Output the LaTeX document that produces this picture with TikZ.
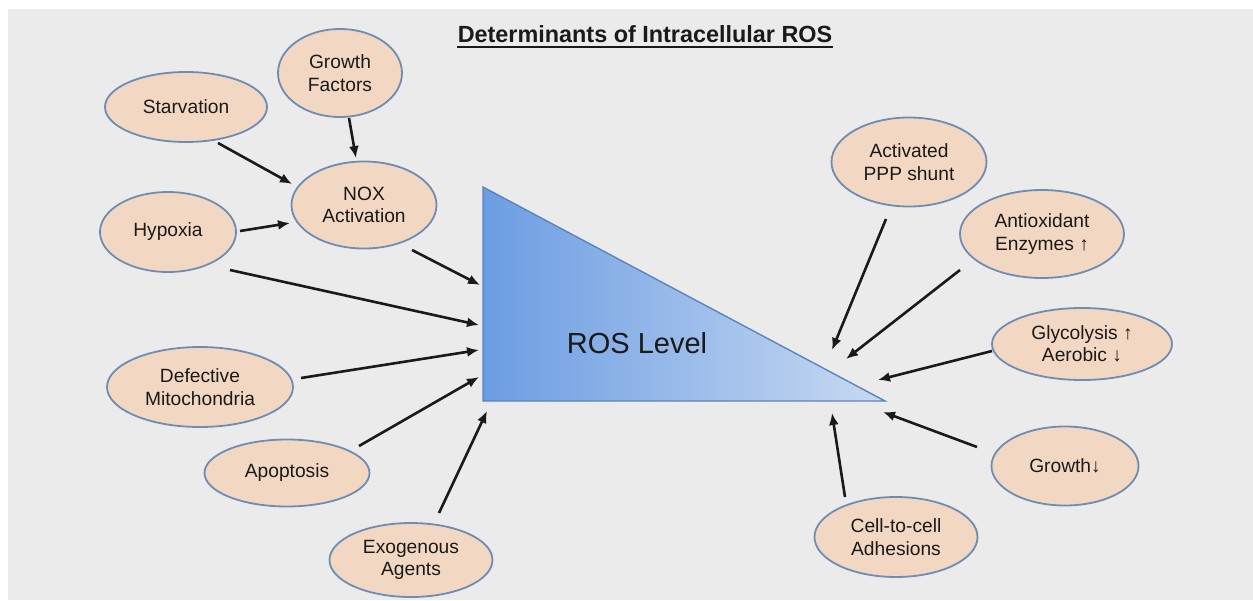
\documentclass[tikz,border=0pt]{standalone}
\usepackage{fontspec}
\setmainfont{Liberation Sans}
\usetikzlibrary{shapes.geometric,arrows.meta,calc}
\definecolor{bgc}{HTML}{EBEBEB}
\definecolor{peach}{HTML}{F2D8C2}
\definecolor{ebord}{HTML}{6F8DB3}
\definecolor{triL}{HTML}{6C9DE3}
\definecolor{triR}{HTML}{C8DAF1}
\definecolor{triB}{HTML}{5A84BC}
\definecolor{ink}{HTML}{1A1A1A}
\begin{document}
\begin{tikzpicture}[x=0.5pt,y=-0.5pt,
  ell/.style={ellipse,draw=ebord,line width=0.9pt,fill=peach,inner sep=0pt,align=center,
    font=\fontsize{9.6}{11.2}\selectfont,text=ink},
  arr/.style={-{Latex[length=6pt,width=5pt]},line width=1.3pt,draw=ink}]
\useasboundingbox (0,0) rectangle (1253,600);
\fill[bgc] (8,9) rectangle (1253,600);
% title
\node[anchor=base,inner sep=0pt,font=\fontsize{11.7}{14}\selectfont\bfseries,text=ink] (title) at (645,42) {Determinants of Intracellular ROS};
\draw[line width=1pt,ink] ($(title.base west)+(0,5)$) -- ($(title.base east)+(0,5)$);
% triangle
\coordinate (tA) at (483,187);
\coordinate (tB) at (483,401);
\coordinate (tC) at (885,401);
\shade[left color=triL,right color=triR] (tA) -- (tB) -- (tC) -- cycle;
\draw[triB,line width=0.7pt,line join=miter] (tA) -- (tB) -- (tC) -- cycle;
\node[font=\fontsize{14.5}{17}\selectfont,text=ink] (ros) at (637,343) {ROS Level};
% ellipses
\node[ell,minimum width=81pt,minimum height=35pt] (starv) at (186,107) {Starvation};
\node[ell,minimum width=62pt,minimum height=44pt] (growthf) at (340,73) {Growth\\Factors};
\node[ell,minimum width=72.5pt,minimum height=43.5pt] (nox) at (364,205) {NOX\\Activation};
\node[ell,minimum width=68pt,minimum height=40pt] (hypoxia) at (168,232) {Hypoxia};
\node[ell,minimum width=93pt,minimum height=40pt] (defect) at (200,387) {Defective\\Mitochondria};
\node[ell,minimum width=82.5pt,minimum height=33.5pt] (apop) at (287,473) {Apoptosis};
\node[ell,minimum width=81.5pt,minimum height=37pt] (exo) at (411,560) {Exogenous\\Agents};
\node[ell,minimum width=77.5pt,minimum height=44.5pt] (ppp) at (909,162) {Activated\\PPP shunt};
\node[ell,minimum width=82pt,minimum height=44pt] (antiox) at (1042,234) {Antioxidant\\Enzymes ↑};
\node[ell,minimum width=90pt,minimum height=36pt] (glyc) at (1082,344) {Glycolysis ↑\\Aerobic ↓};
\node[ell,minimum width=73.5pt,minimum height=39.5pt] (growthd) at (1065,466) {Growth↓};
\node[ell,minimum width=81.5pt,minimum height=40pt] (cell) at (896,537) {Cell-to-cell\\Adhesions};
% arrow targets at the triangle
\coordinate (t1) at (480,285);
\coordinate (t2) at (479,325);
\coordinate (t3) at (479,350);
\coordinate (t4) at (479,377);
\coordinate (t5) at (487,411);
\coordinate (t6) at (832,350);
\coordinate (t7) at (846,359);
\coordinate (t8) at (878,380);
\coordinate (t9) at (883,412);
\coordinate (t10) at (832,413);
% arrows
\draw[arr] ($(starv)+(32,36)$) -- ($(nox)+(-72,-21)$);
\draw[arr] ($(growthf)+(9,45)$) -- ($(nox)+(-8,-47)$);
\draw[arr] ($(hypoxia)+(72,-1)$) -- ($(nox)+(-74,18)$);
\draw[arr] ($(nox)+(48,45)$) -- (t1);
\draw[arr] ($(hypoxia)+(62,38)$) -- (t2);
\draw[arr] ($(defect)+(101,-9)$) -- (t3);
\draw[arr] ($(apop)+(72,-27)$) -- (t4);
\draw[arr] ($(exo)+(28,-47)$) -- (t5);
\draw[arr] ($(ppp)+(-23,57)$) -- (t6);
\draw[arr] ($(antiox)+(-82,36)$) -- (t7);
\draw[arr] ($(glyc)+(-90,7)$) -- (t8);
\draw[arr] ($(growthd)+(-88,-19)$) -- (t9);
\draw[arr] ($(cell)+(-51,-40)$) -- (t10);
\end{tikzpicture}
\end{document}
